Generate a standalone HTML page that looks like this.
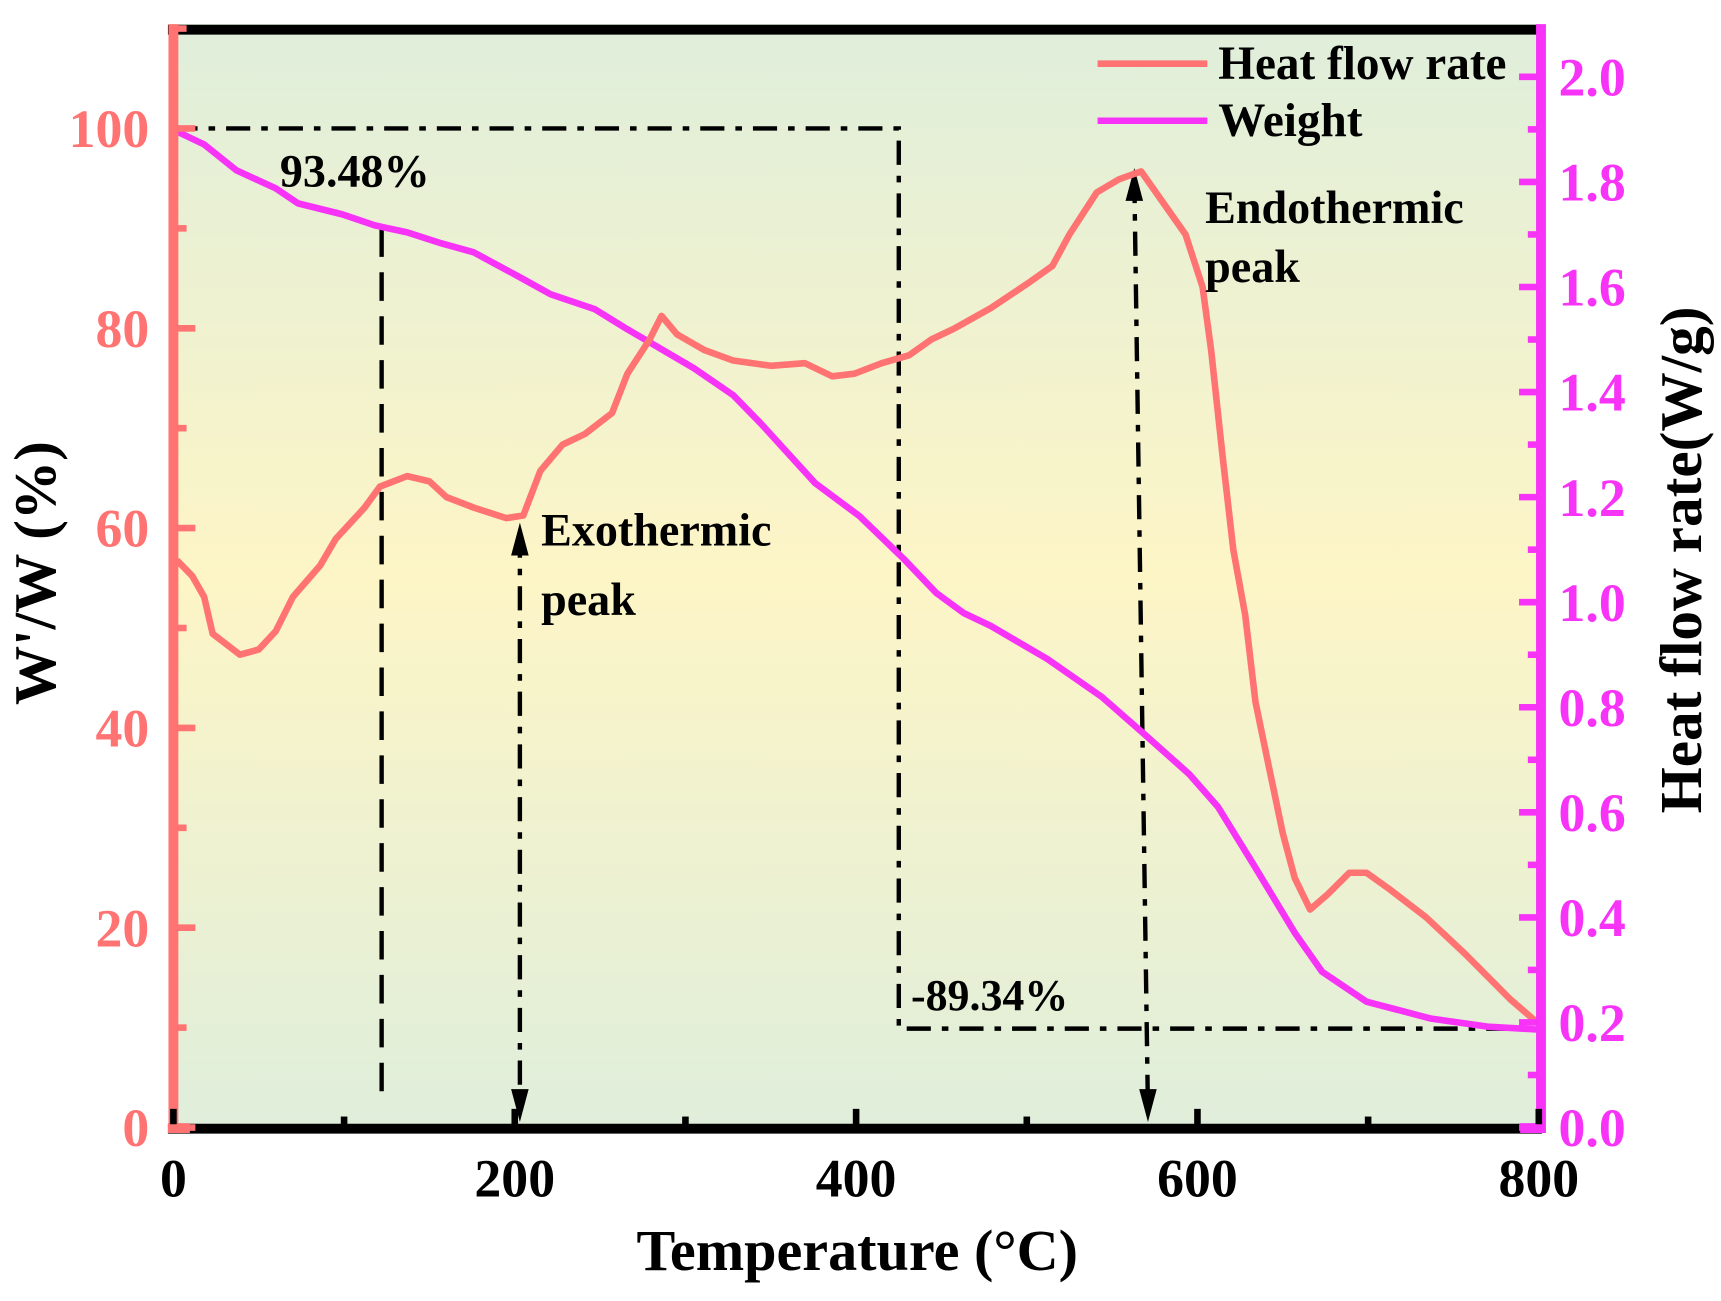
<!DOCTYPE html>
<html><head><meta charset="utf-8"><style>html,body{margin:0;padding:0;background:#fff}svg{display:block}text{font-family:"Liberation Serif",serif;font-weight:bold}</style></head>
<body>
<svg id="chart" width="1721" height="1301" viewBox="0 0 1568 1185" preserveAspectRatio="none" xmlns="http://www.w3.org/2000/svg">
<defs>
<linearGradient id="bg" x1="0" y1="0" x2="0" y2="1">
<stop offset="0" stop-color="#dfeedb"/>
<stop offset="0.5" stop-color="#fdf5c6"/>
<stop offset="1" stop-color="#dfeedb"/>
</linearGradient>
</defs>
<rect x="157" y="22" width="1248" height="1005" fill="url(#bg)"/>
<g id="marks"></g>
<g id="axes"></g>
</svg>
<script>
const tempW=[0,2,18,37,60,73,99,118,137,157,176,202,221,247,266,286,305,328,344,376,402,428,447,463,479,512,544,570,595,612,634,657,673,699,737,770,800];
const weightW=[100,99.7,98.4,95.8,94.0,92.5,91.4,90.3,89.6,88.5,87.6,85.2,83.4,81.9,79.9,77.9,76.0,73.3,70.5,64.5,61.2,56.9,53.5,51.5,50.2,46.9,43.1,39.2,35.4,32.1,26.0,19.5,15.6,12.6,10.9,10.1,9.8];
const tempH=[2,11,18,23,31,39,50,60,70,86,95,112,121,137,150,160,176,195,205,215,228,241,257,266,279,286,295,311,328,350,370,386,399,415,431,444,457,479,502,515,525,541,554,567,580,593,603,608,615,621,628,634,641,650,657,666,676,689,699,712,734,757,783,799];
const heatH=[1.08,1.05,1.01,0.94,0.92,0.90,0.91,0.945,1.01,1.07,1.12,1.18,1.22,1.24,1.23,1.20,1.18,1.16,1.165,1.25,1.30,1.32,1.36,1.435,1.50,1.545,1.51,1.48,1.46,1.45,1.455,1.43,1.435,1.455,1.47,1.50,1.52,1.56,1.61,1.64,1.70,1.78,1.805,1.82,1.76,1.70,1.60,1.48,1.27,1.10,0.975,0.81,0.70,0.56,0.475,0.415,0.443,0.485,0.485,0.455,0.40,0.33,0.245,0.20];
const xTicks=[0,200,400,600,800];
const yLeftTicks=[0,20,40,60,80,100];
const yRightTicks=[0.0,0.2,0.4,0.6,0.8,1.0,1.2,1.4,1.6,1.8,2.0];

const NS="http://www.w3.org/2000/svg";
const X=t=>158+t*1.555;
const YL=w=>1027-w*9.1;
const YR=h=>1027-h*478.5;
const marks=document.getElementById('marks');
const axes=document.getElementById('axes');
function mk(tag,attrs,parent){const e=document.createElementNS(NS,tag);for(const k in attrs)e.setAttribute(k,attrs[k]);parent.appendChild(e);return e;}

let l;
l=mk('polyline',{points:`${X(0)},${YL(100)} ${X(425)},${YL(100)} ${X(425)},${YL(9.9)} ${X(800)},${YL(9.9)}`,fill:'none',stroke:'#000','stroke-width':4,'stroke-dasharray':'22,10,6,10'},marks);


l=mk('line',{x1:X(122),y1:YL(90),x2:X(122),y2:YL(3),stroke:'#000','stroke-width':4,'stroke-dasharray':'26,14'},marks);


function arrow(t1,t2,yt,yb,name){
  const g=mk('g',{},marks);
  
  
  mk('line',{x1:X(t1),y1:yt+10,x2:X(t2),y2:yb-10,stroke:'#000','stroke-width':4,'stroke-dasharray':'22,10,6,10'},g);
  const xt=X(t1),xb=X(t2);
  mk('path',{d:`M${xt},${yt} L${xt-8},${yt+30} L${xt+8},${yt+30} Z`,fill:'#000'},g);
  mk('path',{d:`M${xb},${yb} L${xb-8},${yb-30} L${xb+8},${yb-30} Z`,fill:'#000'},g);
}
arrow(203,203,476,1022,'exothermic-arrow');
arrow(563,571,153,1022,'endothermic-arrow');

let p=mk('polyline',{points:tempW.map((t,i)=>X(t)+','+YL(weightW[i])).join(' '),fill:'none',stroke:'#f733f7','stroke-width':6,'stroke-linejoin':'round'},marks);


p=mk('polyline',{points:tempH.map((t,i)=>X(t)+','+YR(heatH[i])).join(' '),fill:'none',stroke:'#ff7373','stroke-width':6,'stroke-linejoin':'round'},marks);



function txt(s,x,y,size,fill,name,anchor,rot){
  const e=mk('text',{x:x,y:y,'font-size':size,fill:fill,'text-anchor':anchor||'start'},axes);
  if(rot)e.setAttribute('transform',`rotate(${rot} ${x} ${y})`);
  e.textContent=s;
  
  
  return e;
}
txt('93.48%',255,170,42,'#000','annotation-93-48');
txt('Exothermic',493,497,42,'#000','annotation-exothermic');
txt('peak',493,560,42,'#000','annotation-exothermic-peak');
txt('Endothermic',1098,203,42,'#000','annotation-endothermic');
txt('peak',1098,257,42,'#000','annotation-endothermic-peak');
txt('-89.34%',830,920,40,'#000','annotation-89-34');

l=mk('line',{x1:153,y1:27,x2:1405,y2:27,stroke:'#000','stroke-width':9},axes);


l=mk('line',{x1:153,y1:1028,x2:1405,y2:1028,stroke:'#000','stroke-width':9},axes);


l=mk('line',{x1:158,y1:22,x2:158,y2:1032,stroke:'#ff7373','stroke-width':9},axes);


l=mk('line',{x1:1404,y1:22,x2:1404,y2:1032,stroke:'#f733f7','stroke-width':9},axes);


mk('rect',{x:153,y:1023,width:20,height:9,fill:'#ff7373'},axes);
mk('rect',{x:1385,y:1023,width:20,height:9,fill:'#f733f7'},axes);

for(let t=0;t<=800;t+=100){
  const tk=mk('line',{x1:X(t),y1:1024,x2:X(t),y2:t%200===0?1010:1017,stroke:'#000','stroke-width':6},axes);
  
  
}
xTicks.forEach(t=>txt(String(t),X(t),1090,49,'#000','x-tick-label','middle'));
for(let w=0;w<=110;w+=10){
  const tk=mk('line',{x1:162,y1:YL(w),x2:w%20===0?178:170,y2:YL(w),stroke:'#ff7373','stroke-width':6},axes);
  
  
}
yLeftTicks.forEach(w=>txt(String(w),136,YL(w)+17,49,'#ff7373','left-y-tick-label','end'));
for(let i=0;i<=20;i++){
  const h=i/10;
  const tk=mk('line',{x1:1400,y1:YR(h),x2:i%2===0?1384:1392,y2:YR(h),stroke:'#f733f7','stroke-width':6},axes);
  
  
}
yRightTicks.forEach(h=>txt(h.toFixed(1),1420,YR(h)+17,49,'#f733f7','right-y-tick-label','start'));

txt('Temperature (°C)',781,1157,53,'#000','x-axis-title','middle');
txt("W'/W (%)",50,522,54,'#000','left-y-axis-title','middle',-90);
txt('Heat flow rate(W/g)',1550,510,54,'#000','right-y-axis-title','middle',-90);

const lg=mk('g',{},axes);


mk('line',{x1:1000,y1:58,x2:1100,y2:58,stroke:'#ff7373','stroke-width':6},lg);
mk('line',{x1:1000,y1:110,x2:1100,y2:110,stroke:'#f733f7','stroke-width':6},lg);
txt('Heat flow rate',1110,72,43,'#000','legend-heat-flow');
txt('Weight',1110,124,43,'#000','legend-weight');
</script>
</body></html>
